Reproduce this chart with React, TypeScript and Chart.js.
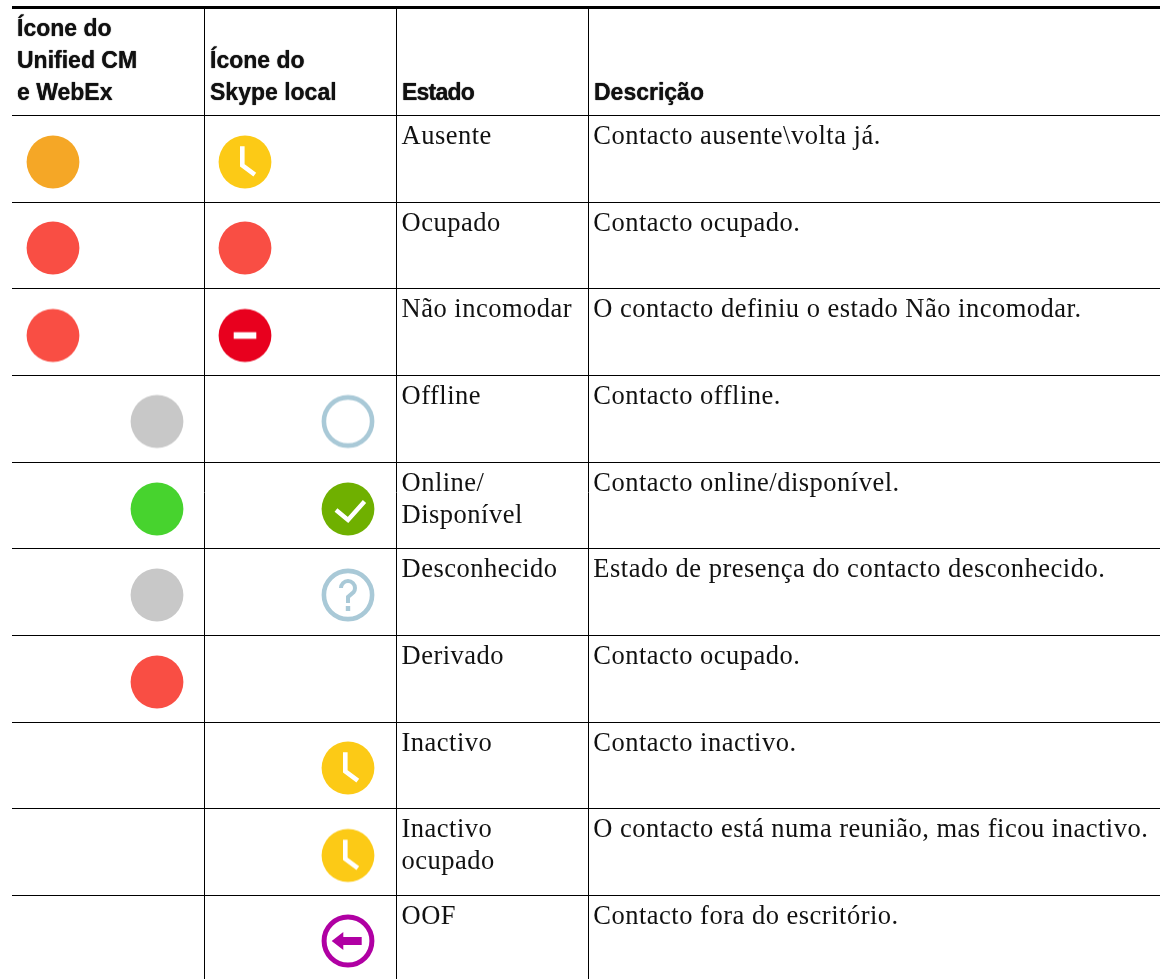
import React, { useEffect, useRef } from "react";
import { Chart, registerables } from "chart.js";

Chart.register(...registerables);

// Table geometry (in image pixels, used as scale values)
const columnEdges = [204, 396.5, 588];
const topRule = 7;
const rowEdges = [115.5, 202, 288.5, 375.5, 462, 548.5, 635, 722, 808.5, 895];

const headers = [
  { lines: ["Ícone do", "Unified CM", "e WebEx"], x: 17 },
  { lines: ["Ícone do", "Skype local"], x: 210 },
  { lines: ["Estado"], x: 402 },
  { lines: ["Descrição"], x: 594 },
];
const states = [
  ["Ausente"],
  ["Ocupado"],
  ["Não incomodar"],
  ["Offline"],
  ["Online/", "Disponível"],
  ["Desconhecido"],
  ["Derivado"],
  ["Inactivo"],
  ["Inactivo", "ocupado"],
  ["OOF"],
];
const descriptions = [
  "Contacto ausente\\volta já.",
  "Contacto ocupado.",
  "O contacto definiu o estado Não incomodar.",
  "Contacto offline.",
  "Contacto online/disponível.",
  "Estado de presença do contacto desconhecido.",
  "Contacto ocupado.",
  "Contacto inactivo.",
  "O contacto está numa reunião, mas ficou inactivo.",
  "Contacto fora do escritório.",
];

const rowCentres = [162, 248, 335.5, 421.5, 509, 595, 682, 768, 855.5, 941];
const unifiedIcons = ["orange", "red", "red", "gray", "green", "gray", "red", null, null, null];
const unifiedX = [53, 53, 53, 157, 157, 157, 157, null, null, null];
const skypeIcons = ["clock", "red", "dnd", "ring", "check", "question", null, "clock", "clock", "oof"];
const skypeX = [245, 245, 245, 348, 348, 348, null, 348, 348, 348];

const ICON_SIZE = 60;
const R = 26.4;

function makeIcon(kind: string): HTMLCanvasElement {
  const c = document.createElement("canvas");
  c.width = ICON_SIZE;
  c.height = ICON_SIZE;
  const g = c.getContext("2d") as CanvasRenderingContext2D;
  g.filter = "blur(0.6px)";
  g.translate(ICON_SIZE / 2, ICON_SIZE / 2);
  const disc = (col: string) => {
    g.fillStyle = col;
    g.beginPath();
    g.arc(0, 0, R, 0, Math.PI * 2);
    g.fill();
  };
  const ring = (col: string, w: number) => {
    g.strokeStyle = col;
    g.lineWidth = w;
    g.beginPath();
    g.arc(0, 0, R - w / 2, 0, Math.PI * 2);
    g.stroke();
  };
  const fills: Record<string, string> = {
    orange: "#F5A726",
    red: "#F94E44",
    gray: "#C8C8C8",
    green: "#47D32E",
  };
  if (fills[kind]) disc(fills[kind]);
  if (kind === "clock") {
    disc("#FCCA16");
    g.strokeStyle = "#fff";
    g.lineWidth = 4.6;
    g.lineJoin = "miter";
    g.beginPath();
    g.moveTo(-2.7, -15.7);
    g.lineTo(-2.7, 3.3);
    g.lineTo(9.8, 12.6);
    g.stroke();
  }
  if (kind === "dnd") {
    disc("#E8001E");
    g.fillStyle = "#fff";
    g.fillRect(-11.3, -3.3, 22.6, 6.6);
  }
  if (kind === "check") {
    disc("#6FB000");
    g.strokeStyle = "#fff";
    g.lineWidth = 4.4;
    g.beginPath();
    g.moveTo(-12, 1);
    g.lineTo(0, 11);
    g.lineTo(16.5, -7.5);
    g.stroke();
  }
  if (kind === "ring") ring("#A9C9D7", 4.6);
  if (kind === "question") {
    ring("#A9C9D7", 4.6);
    g.strokeStyle = "#A9C9D7";
    g.lineWidth = 4;
    g.beginPath();
    g.arc(0, -7, 7, Math.PI, Math.PI * 2.2);
    g.lineTo(0, 2);
    g.lineTo(0, 8);
    g.stroke();
    g.fillStyle = "#A9C9D7";
    g.fillRect(-2.2, 11, 4.4, 5);
  }
  if (kind === "oof") {
    ring("#B000A3", 5);
    g.fillStyle = "#B000A3";
    g.beginPath();
    g.moveTo(-16.3, 0);
    g.lineTo(-4.7, -9);
    g.lineTo(-4.7, -4);
    g.lineTo(13.7, -4);
    g.lineTo(13.7, 4);
    g.lineTo(-4.7, 4);
    g.lineTo(-4.7, 9);
    g.closePath();
    g.fill();
  }
  return c;
}

const SERIF = '26.5px "Liberation Serif", serif';
const BOLD = 'bold 23px "Liberation Sans", sans-serif';
const INK = "#111111";
const LINE = 32;

const tableText = {
  id: "tableText",
  afterDatasetsDraw(chart: any) {
    const { ctx, scales } = chart;
    const px = (v: number) => scales.x.getPixelForValue(v);
    const py = (v: number) => scales.y.getPixelForValue(v);
    ctx.save();
    ctx.fillStyle = INK;
    ctx.textBaseline = "alphabetic";
    ctx.textAlign = "left";
    ctx.font = BOLD;
    ctx.shadowColor = "#000";
    ctx.shadowBlur = 1;
    headers.forEach((h) => {
      ctx.letterSpacing = h.lines[0] === "Estado" ? "-0.8px" : "0px";
      h.lines.forEach((t, i) => {
        const y = rowEdges[0] - 15.5 - (h.lines.length - 1 - i) * LINE;
        ctx.fillText(t, px(h.x), py(y));
      });
    });
    ctx.shadowBlur = 0;
    ctx.shadowColor = "transparent";
    ctx.font = SERIF;
    ctx.letterSpacing = "0.5px";
    states.forEach((lines, r) => {
      lines.forEach((t, i) => {
        ctx.fillText(t, px(columnEdges[1] + 5), py(rowEdges[r] + 28.7 + i * LINE));
      });
    });
    descriptions.forEach((t, r) => {
      ctx.fillText(t, px(columnEdges[2] + 5.3), py(rowEdges[r] + 28.7));
    });
    ctx.letterSpacing = "0px";
    ctx.restore();
  },
};

function series(xs: (number | null)[], icons: (string | null)[]) {
  const data: { x: number; y: number }[] = [];
  const styles: HTMLCanvasElement[] = [];
  icons.forEach((k, i) => {
    if (k && xs[i] !== null) {
      data.push({ x: xs[i] as number, y: rowCentres[i] });
      styles.push(makeIcon(k));
    }
  });
  return { data, pointStyle: styles, pointRadius: 26, showLine: false };
}

export default function App() {
  const ref = useRef<HTMLCanvasElement>(null);
  useEffect(() => {
    const chart = new Chart(ref.current as HTMLCanvasElement, {
      type: "scatter",
      data: {
        datasets: [
          { label: "Unified CM e WebEx", ...series(unifiedX, unifiedIcons) },
          { label: "Skype local", ...series(skypeX, skypeIcons) },
        ] as any,
      },
      plugins: [tableText],
      options: {
        animation: false,
        responsive: false,
        layout: { autoPadding: false, padding: { left: 12, right: 5, top: 6, bottom: 0 } },
        plugins: { legend: { display: false }, tooltip: { enabled: false } },
        scales: {
          x: {
            type: "linear",
            min: 12,
            max: 1160,
            border: { display: false },
            ticks: { display: false },
            grid: { color: "#000", lineWidth: 1, drawTicks: false },
            afterBuildTicks: (s: any) => {
              s.ticks = columnEdges.map((value) => ({ value }));
            },
          },
          y: {
            type: "linear",
            reverse: true,
            min: 6,
            max: 979,
            border: { display: false },
            ticks: { display: false },
            grid: {
              color: "#000",
              lineWidth: (c: any) => (c.tick && c.tick.value === topRule ? 3 : 1),
              drawTicks: false,
            },
            afterBuildTicks: (s: any) => {
              s.ticks = [topRule, ...rowEdges].map((value) => ({ value }));
            },
          },
        },
      } as any,
    });
    return () => chart.destroy();
  }, []);
  return (
    <canvas
      ref={ref}
      width={1165}
      height={979}
      style={{ position: "absolute", left: 0, top: 0, display: "block", background: "#fff" }}
    />
  );
}
